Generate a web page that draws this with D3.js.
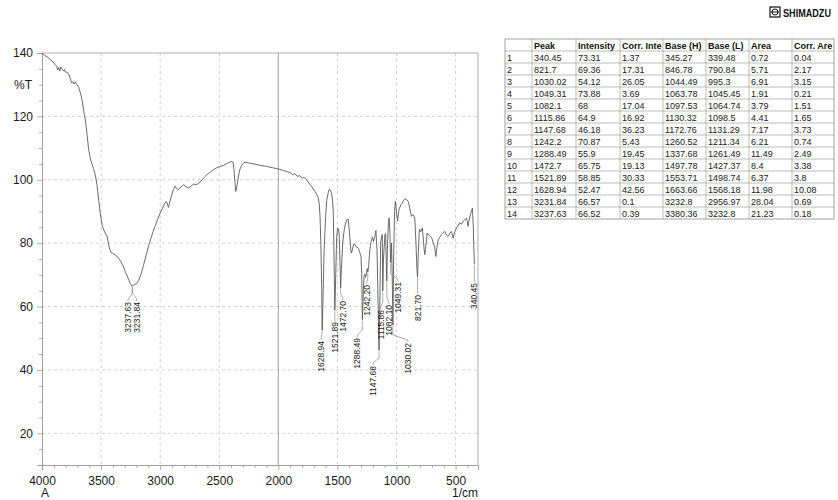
<!DOCTYPE html>
<html>
<head>
<meta charset="utf-8">
<script src="https://cdn.jsdelivr.net/npm/d3@7"></script>
<style>
  html, body { margin: 0; padding: 0; background: #fff; }
  svg { display: block; font-family: "Liberation Sans", Arial, Helvetica, sans-serif; }
</style>
</head>
<body>
<svg id="chart" width="838" height="500"></svg>
<script>
// ---- IR spectrum: wavenumber (1/cm) and transmittance (%T) ----
const wavenumber = [
  4000, 3975, 3950, 3930, 3915, 3900, 3888, 3875, 3868, 3860, 3850, 3840, 3831, 3820, 3810, 3803,
  3790, 3775, 3762, 3750, 3740, 3730, 3718, 3705, 3690, 3680, 3668, 3658, 3648, 3634, 3620, 3606,
  3592, 3578, 3564, 3549, 3535, 3520, 3507, 3490, 3470, 3450, 3430, 3415, 3400, 3380, 3360, 3338,
  3316, 3296, 3275, 3254, 3237.63, 3231.84, 3215, 3200, 3183, 3160, 3141, 3120, 3099, 3070, 3042,
  3020, 3000, 2980, 2958, 2945, 2930, 2915, 2901, 2887, 2873, 2860, 2845, 2825, 2803, 2780, 2761,
  2740, 2720, 2690, 2660, 2640, 2620, 2600, 2580, 2549, 2521, 2493, 2465, 2436, 2410, 2394, 2382,
  2375, 2368, 2360, 2352, 2346, 2335, 2324, 2305, 2281, 2250, 2211, 2160, 2098, 2050, 2000, 1960,
  1930, 1901, 1880, 1860, 1840, 1817, 1800, 1785, 1760, 1740, 1718, 1700, 1690, 1676, 1662, 1654,
  1647, 1640, 1633, 1628.94, 1622, 1612, 1600, 1590, 1577, 1569, 1563, 1549, 1540, 1535, 1528,
  1521.89, 1514, 1506, 1498, 1490, 1484, 1478, 1472.7, 1466, 1455, 1445, 1436, 1420, 1408, 1395,
  1385, 1380, 1370, 1360, 1352, 1340, 1324, 1310, 1300, 1294, 1288.49, 1282, 1275, 1268, 1262,
  1255, 1248, 1242.2, 1235, 1225, 1215, 1203, 1195, 1185, 1174, 1165, 1155, 1147.68, 1140, 1134,
  1126, 1120, 1115.86, 1110, 1098, 1092, 1086, 1082.1, 1076, 1068, 1062, 1056, 1049.31, 1042,
  1036, 1030.02, 1024, 1016, 1010, 1003, 997, 990, 983, 975, 963, 950, 940, 929, 915, 901, 890,
  880, 873, 860, 845, 835, 827, 821.7, 815, 808, 803, 795, 781, 772, 766, 760, 752, 740, 728, 711,
  700, 690, 678, 667, 658, 647, 635, 619, 605, 591, 577, 563, 548, 534, 527, 521, 508, 492, 478,
  464, 450, 436, 422, 408, 400, 394, 386, 374, 365, 357, 350, 346, 340.45
];
const transmittance = [
  140.0, 139.2, 138.6, 137.9, 137.5, 136.9, 136.3, 135.8, 134.7, 135.4, 134.3, 135.6, 135.0, 134.4, 134.8, 134.0,
  133.9, 133.5, 132.0, 130.6, 131.0, 130.2, 130.9, 130.0, 129.3, 128.0, 126.5, 124.5, 122.0, 119.0, 114.8, 109.8,
  106.9, 105.0, 103.6, 101.5, 98.5, 93.5, 89.5, 85.5, 83.5, 82.3, 78.5, 77.0, 76.8, 76.2, 75.7, 74.5,
  73.0, 71.1, 69.3, 67.3, 66.52, 66.57, 67.0, 67.2, 68.2, 70.5, 73.0, 76.0, 79.0, 82.5, 85.5,
  87.6, 89.5, 91.0, 92.8, 93.0, 91.3, 93.5, 95.3, 97.0, 98.0, 97.2, 96.9, 97.7, 98.4, 97.8, 97.4,
  97.9, 98.6, 98.5, 99.3, 100.2, 101.0, 101.8, 102.3, 103.2, 103.8, 104.2, 104.5, 105.1, 105.6, 105.8, 105.5,
  103.0, 99.5, 96.3, 97.8, 99.0, 101.5, 103.4, 104.9, 105.6, 105.3, 105.0, 104.6, 104.2, 103.8, 103.4, 103.0,
  102.6, 102.3, 101.6, 101.9, 101.1, 101.3, 100.5, 100.8, 100.0, 98.9, 97.9, 96.8, 96.3, 95.5, 94.3, 92.5,
  88.5, 80.0, 66.0, 52.47, 62.0, 78.0, 88.0, 93.5, 96.0, 97.0, 96.9, 95.8, 93.0, 90.0, 75.0,
  58.85, 70.0, 82.0, 84.8, 84.3, 82.0, 74.0, 65.75, 72.0, 80.0, 83.5, 85.5, 87.4, 87.6, 82.0,
  77.5, 76.9, 78.5, 79.8, 79.5, 78.8, 78.5, 77.0, 75.8, 70.0, 55.9, 63.0, 69.5, 70.2, 69.2,
  70.0, 72.0, 70.87, 73.0, 78.0, 80.5, 82.0, 80.5, 81.8, 84.0, 78.0, 60.0, 46.18, 62.0, 80.0,
  82.1, 82.7, 64.9, 75.0, 82.7, 83.0, 74.0, 68.0, 80.0, 86.5, 88.0, 84.0, 73.88, 80.0,
  70.0, 54.12, 75.0, 90.0, 93.2, 91.0, 88.5, 87.0, 89.5, 91.0, 92.1, 92.6, 93.5, 94.0, 93.7, 93.2, 91.5,
  89.5, 88.5, 89.0, 87.9, 80.0, 72.0, 69.36, 77.0, 83.0, 84.3, 83.6, 84.8, 81.0, 78.0, 76.4, 79.0, 83.2, 82.5, 82.1,
  81.5, 80.1, 79.0, 75.8, 78.5, 81.1, 81.8, 82.7, 83.2, 83.7, 82.6, 82.1, 83.2, 83.7, 82.5, 81.6, 83.5, 84.8, 85.6,
  86.4, 86.0, 86.9, 87.3, 87.9, 86.8, 85.3, 87.2, 89.0, 90.2, 91.1, 85.0, 79.0, 73.31
];

// ---- Peak table ----
const tableHeaders   = ["", "Peak", "Intensity", "Corr. Inte", "Base (H)", "Base (L)", "Area", "Corr. Are"];
const peakWavenumber = [340.45, 821.7, 1030.02, 1049.31, 1082.1, 1115.86, 1147.68, 1242.2, 1288.49, 1472.7, 1521.89, 1628.94, 3231.84, 3237.63];
const peakIntensity  = [73.31, 69.36, 54.12, 73.88, 68, 64.9, 46.18, 70.87, 55.9, 65.75, 58.85, 52.47, 66.57, 66.52];
const corrIntensity  = [1.37, 17.31, 26.05, 3.69, 17.04, 16.92, 36.23, 5.43, 19.45, 19.13, 30.33, 42.56, 0.1, 0.39];
const baseHigh       = [345.27, 846.78, 1044.49, 1063.78, 1097.53, 1130.32, 1172.76, 1260.52, 1337.68, 1497.78, 1553.71, 1663.66, 3232.8, 3380.36];
const baseLow        = [339.48, 790.84, 995.3, 1045.45, 1064.74, 1098.5, 1131.29, 1211.34, 1261.49, 1427.37, 1498.74, 1568.18, 2956.97, 3232.8];
const peakArea       = [0.72, 5.71, 6.91, 1.91, 3.79, 4.41, 7.17, 6.21, 11.49, 8.4, 6.37, 11.98, 28.04, 21.23];
const corrArea       = [0.04, 2.17, 3.15, 0.21, 1.51, 1.65, 3.73, 0.74, 2.49, 3.38, 3.8, 10.08, 0.69, 0.18];

// ---- Axis ticks ----
const xTickValues = [4000, 3500, 3000, 2500, 2000, 1500, 1000, 500];
const yTickValues = [20, 40, 60, 80, 100, 120, 140];

// ---------------------------------------------------------------------------
const svg = d3.select("#chart");
const plot = { left: 42, right: 478, top: 53, bottom: 465 };

const x = d3.scaleLinear().domain([4000, 310]).range([plot.left, plot.right]);
const y = d3.scaleLinear().domain([10, 140]).range([plot.bottom, plot.top]);

const gridColor = "#c8c8c8";
const frameColor = "#9a9a9a";
const textColor = "#1a1a1a";

// dashed grid
const grid = svg.append("g");
grid.selectAll("line.gx")
  .data(xTickValues.filter(v => v !== 4000 && v !== 2000))
  .join("line")
  .attr("x1", d => x(d)).attr("x2", d => x(d))
  .attr("y1", plot.top).attr("y2", plot.bottom)
  .attr("stroke", gridColor).attr("stroke-width", 0.8).attr("stroke-dasharray", "3,3");
grid.selectAll("line.gy")
  .data(yTickValues.filter(v => v !== 140))
  .join("line")
  .attr("x1", plot.left).attr("x2", plot.right)
  .attr("y1", d => y(d)).attr("y2", d => y(d))
  .attr("stroke", gridColor).attr("stroke-width", 0.8).attr("stroke-dasharray", "3,3");

// frame: top, right and the 2000 marker line
svg.append("line").attr("x1", plot.left).attr("x2", plot.right).attr("y1", plot.top).attr("y2", plot.top)
  .attr("stroke", frameColor).attr("stroke-width", 0.8);
svg.append("line").attr("x1", plot.right).attr("x2", plot.right).attr("y1", plot.top).attr("y2", plot.bottom)
  .attr("stroke", frameColor).attr("stroke-width", 0.8);
svg.append("line").attr("x1", x(2000)).attr("x2", x(2000)).attr("y1", plot.top).attr("y2", plot.bottom)
  .attr("stroke", "#8a8a8a").attr("stroke-width", 0.8);

// minor ticks
const xMinor = d3.range(4000, 300, -100).filter(v => v % 500 !== 0);
const yMinor = d3.range(15, 140, 5).filter(v => v % 20 !== 0);

const xAxisMinor = svg.append("g").attr("transform", `translate(0,${plot.bottom})`)
  .call(d3.axisBottom(x).tickValues(xMinor).tickSize(3).tickFormat(""));
const yAxisMinor = svg.append("g").attr("transform", `translate(${plot.left},0)`)
  .call(d3.axisLeft(y).tickValues(yMinor).tickSize(3).tickFormat(""));

const xAxis = svg.append("g").attr("transform", `translate(0,${plot.bottom})`)
  .call(d3.axisBottom(x).tickValues(xTickValues).tickSize(5).tickPadding(6).tickFormat(d3.format("d")));
const yAxis = svg.append("g").attr("transform", `translate(${plot.left},0)`)
  .call(d3.axisLeft(y).tickValues(yTickValues).tickSize(5).tickPadding(4).tickFormat(d3.format("d")));

[xAxisMinor, yAxisMinor, xAxis, yAxis].forEach(g => {
  g.select(".domain").attr("stroke", frameColor).attr("stroke-width", 0.8);
  g.selectAll(".tick line").attr("stroke", frameColor).attr("stroke-width", 0.8);
  g.selectAll(".tick text").attr("fill", textColor).style("font-size", "12px")
    .style("font-family", "'Liberation Sans', Arial, sans-serif");
});

// axis titles
svg.append("text").attr("x", 32).attr("y", 89).attr("text-anchor", "end")
  .attr("fill", textColor).style("font-size", "12px").text("%T");
svg.append("text").attr("x", 45).attr("y", 497).attr("text-anchor", "middle")
  .attr("fill", textColor).style("font-size", "12px").text("A");
svg.append("text").attr("x", plot.right).attr("y", 497).attr("text-anchor", "end")
  .attr("fill", textColor).style("font-size", "12px").text("1/cm");

// spectrum trace
const points = wavenumber.map((w, i) => [w, transmittance[i]]);
svg.append("path")
  .datum(points)
  .attr("fill", "none")
  .attr("stroke", "#5a5a5a")
  .attr("stroke-width", 0.9)
  .attr("stroke-linejoin", "round")
  .attr("d", d3.line().x(d => x(d[0])).y(d => y(d[1])));

// peak labels: horizontal shift of the label and top of the text (px)
const labelLayout = {
  3237.63: { dx: -4, top: 302 },
  3231.84: { dx: 4, top: 302 },
  1628.94: { dx: -1, top: 341 },
  1521.89: { dx: 0, top: 322 },
  1472.7:  { dx: 2, top: 301 },
  1288.49: { dx: -5, top: 338 },
  1242.2:  { dx: -1, top: 285 },
  1147.68: { dx: -6, top: 366 },
  1115.86: { dx: -2, top: 310 },
  1082.1:  { dx: 2, top: 305 },
  1049.31: { dx: 7, top: 282 },
  1030.02: { dx: 15, top: 343 },
  821.7:   { dx: 0, top: 295 },
  340.45:  { dx: 0, top: 283 }
};

const peaks = peakWavenumber.map((w, i) => ({ w, t: peakIntensity[i], layout: labelLayout[w] }));
const fmt2 = d3.format(".2f");
const labels = svg.append("g");
peaks.forEach(p => {
  const px = x(p.w), py = y(p.t);
  const lx = px + p.layout.dx, top = p.layout.top;
  const bend = Math.max(py + 2, top - 8);
  labels.append("path")
    .attr("d", `M${px},${py + 1}L${px},${bend}L${lx},${top - 3}L${lx},${top - 1}`)
    .attr("fill", "none").attr("stroke", "#8c8c8c").attr("stroke-width", 0.7);
  labels.append("text")
    .attr("transform", `translate(${lx},${top}) rotate(-90)`)
    .attr("text-anchor", "end")
    .attr("dy", "0.35em")
    .attr("fill", textColor)
    .style("font-size", "8.5px")
    .text(fmt2(p.w));
});

// ---- peak table ----
const colWidths = [27, 44, 44, 43, 43, 43, 43, 42];
const colX = [505];
colWidths.forEach(w => colX.push(colX[colX.length - 1] + w));
const tableTop = 39, headH = 12, rowH = 12;
const nRows = peakWavenumber.length;
const tableBottom = tableTop + headH + nRows * rowH;

const table = svg.append("g").style("font-size", "9px");
const rows = peakWavenumber.map((w, i) => [
  String(i + 1), String(w), String(peakIntensity[i]), String(corrIntensity[i]),
  String(baseHigh[i]), String(baseLow[i]), String(peakArea[i]), String(corrArea[i])
]);

table.append("rect").attr("x", colX[0]).attr("y", tableTop)
  .attr("width", colX[colX.length - 1] - colX[0]).attr("height", tableBottom - tableTop)
  .attr("fill", "#fff").attr("stroke", "#8a8a8a").attr("stroke-width", 0.8);
colX.slice(1, -1).forEach(cx => {
  table.append("line").attr("x1", cx).attr("x2", cx).attr("y1", tableTop).attr("y2", tableBottom)
    .attr("stroke", "#a0a0a0").attr("stroke-width", 0.7);
});
d3.range(nRows).forEach(r => {
  const yy = tableTop + headH + r * rowH;
  table.append("line").attr("x1", colX[0]).attr("x2", colX[colX.length - 1]).attr("y1", yy).attr("y2", yy)
    .attr("stroke", "#a0a0a0").attr("stroke-width", 0.7);
});
tableHeaders.forEach((h, c) => {
  table.append("text").attr("x", colX[c] + 2).attr("y", tableTop + 9.5)
    .attr("fill", "#111").style("font-weight", "bold").text(h);
});
rows.forEach((row, r) => {
  row.forEach((cell, c) => {
    table.append("text").attr("x", colX[c] + 2).attr("y", tableTop + headH + r * rowH + 9.5)
      .attr("fill", "#222").text(cell);
  });
});

// ---- maker logo ----
const logo = svg.append("g").attr("transform", "translate(770,6)");
logo.append("rect").attr("x", 0).attr("y", 1).attr("width", 10).attr("height", 10)
  .attr("fill", "none").attr("stroke", "#111").attr("stroke-width", 1.2);
logo.append("circle").attr("cx", 5).attr("cy", 6).attr("r", 3)
  .attr("fill", "none").attr("stroke", "#111").attr("stroke-width", 1);
logo.append("line").attr("x1", 1).attr("x2", 9).attr("y1", 6).attr("y2", 6)
  .attr("stroke", "#111").attr("stroke-width", 1);
logo.append("text").attr("x", 13).attr("y", 10.5)
  .attr("fill", "#111").style("font-size", "10px").style("font-weight", "bold")
  .attr("textLength", 48).attr("lengthAdjust", "spacingAndGlyphs")
  .text("SHIMADZU");
</script>
</body>
</html>
